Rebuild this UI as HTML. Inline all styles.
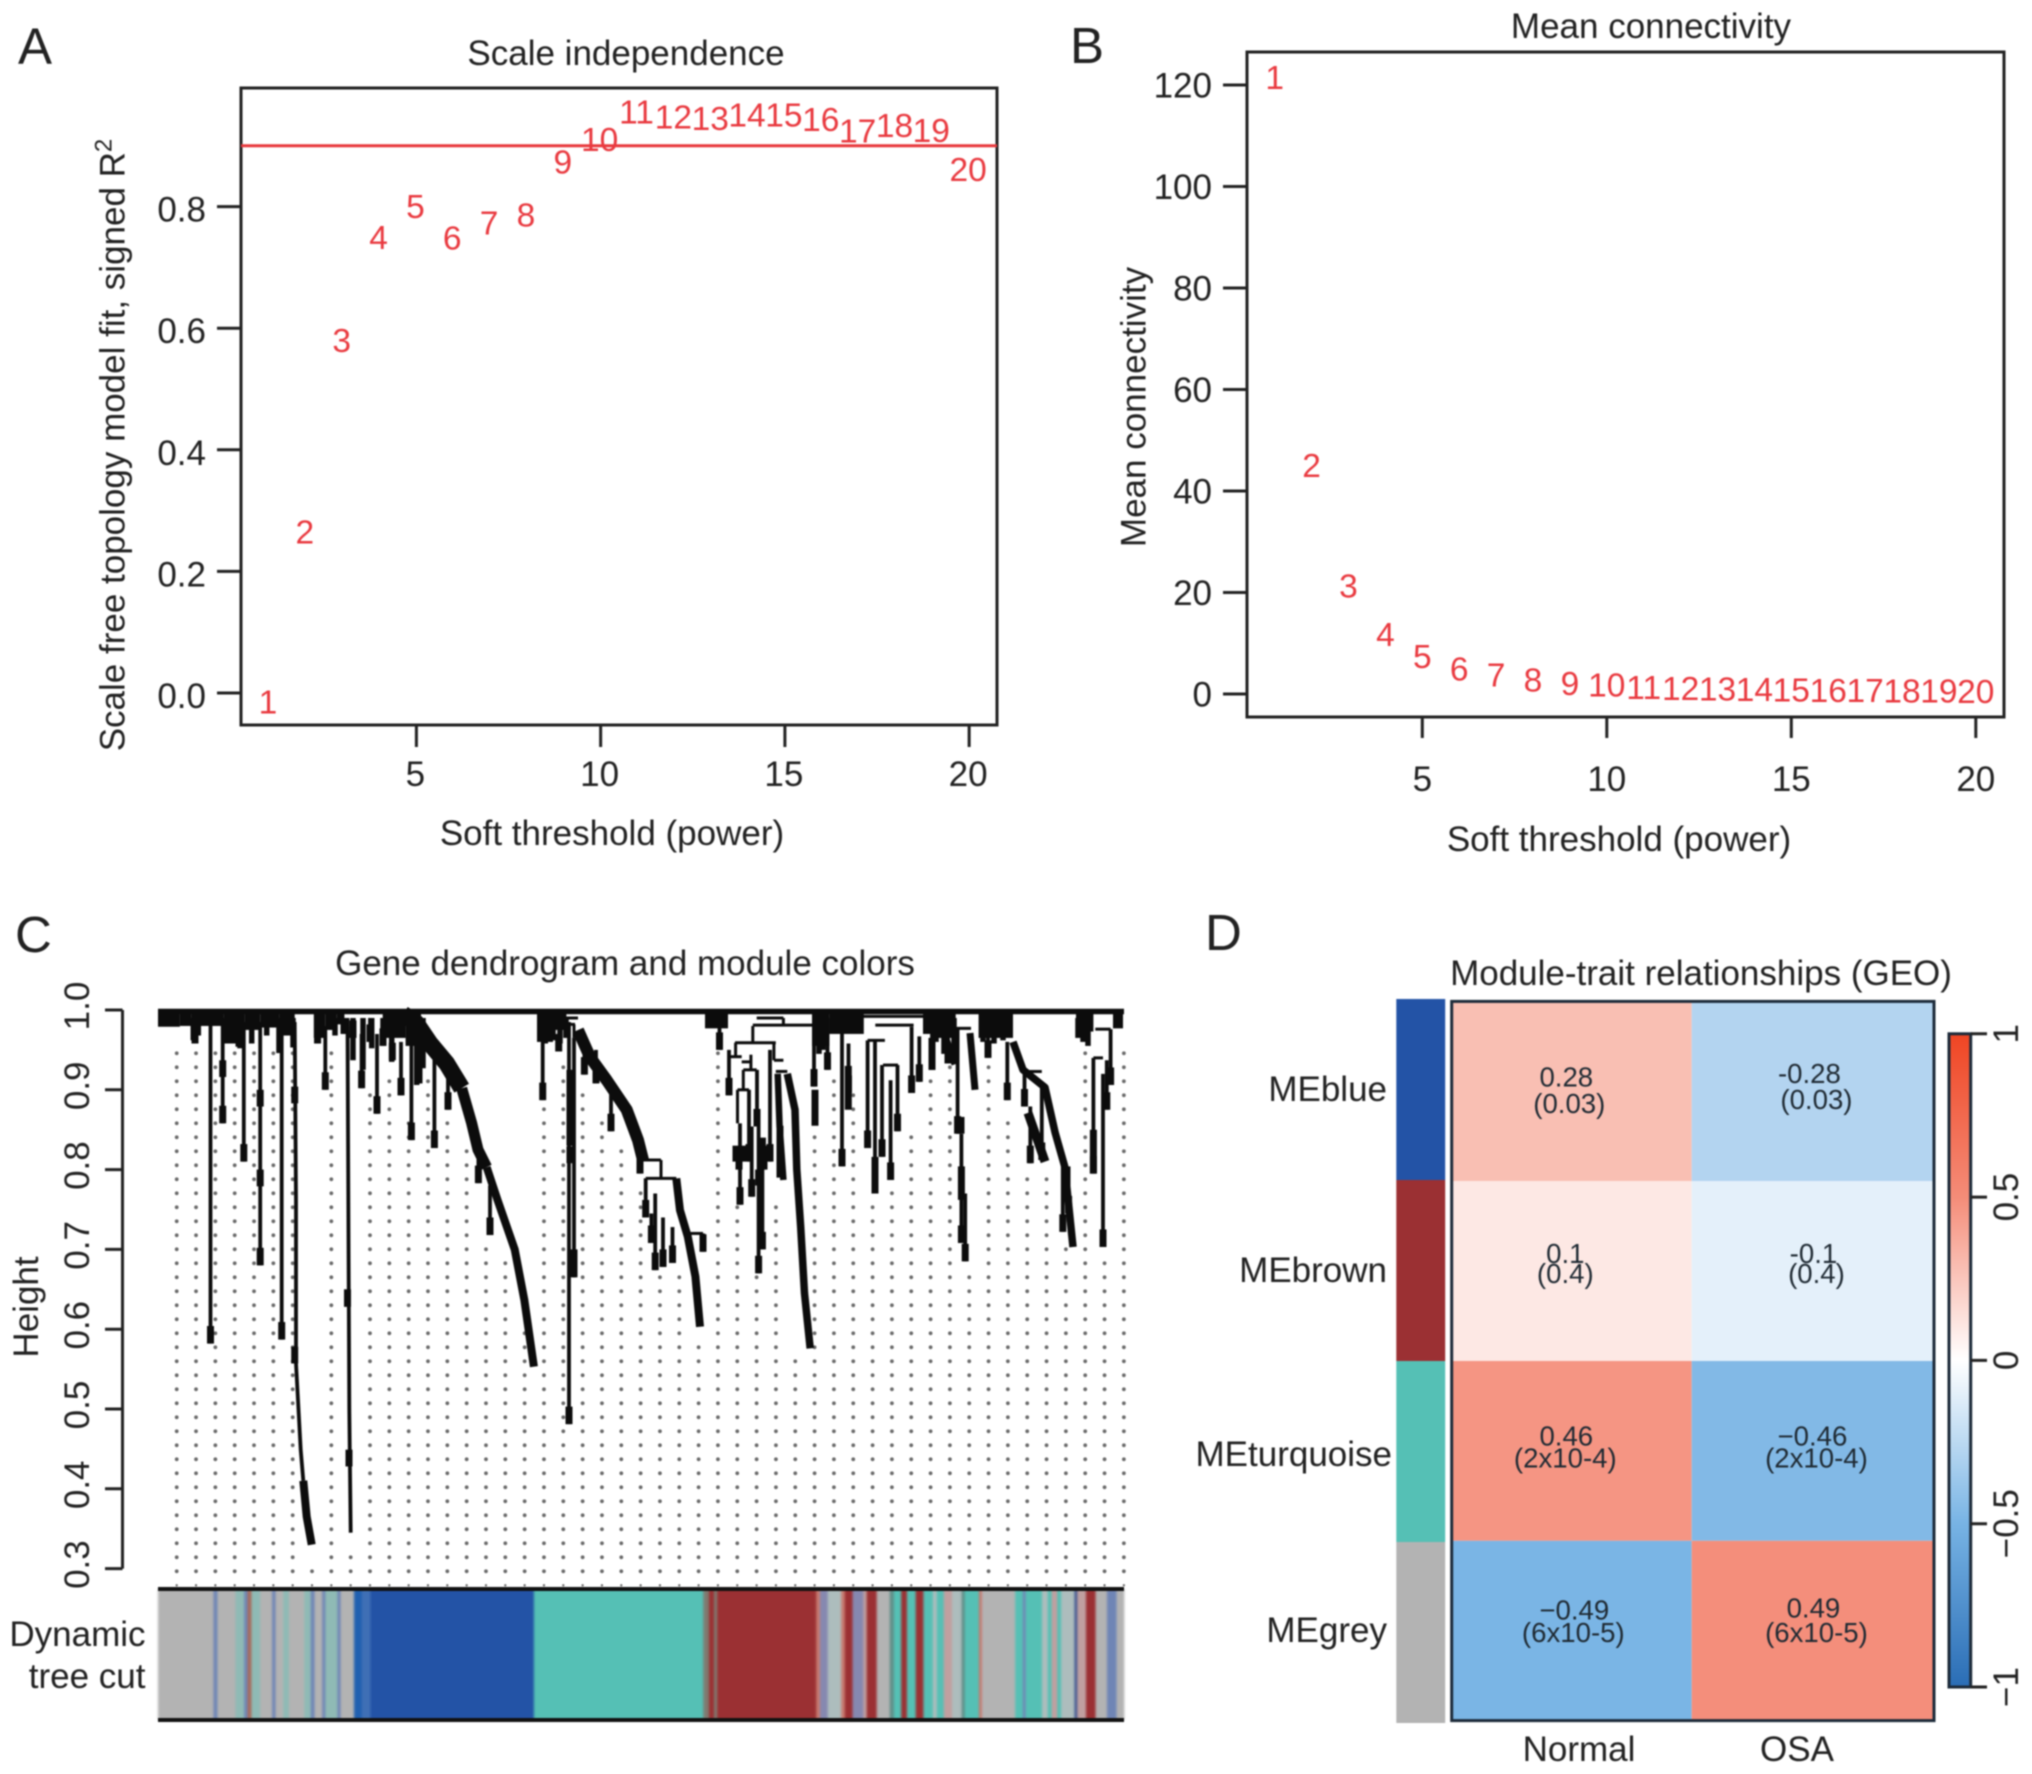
<!DOCTYPE html>
<html lang="en">
<head>
<meta charset="utf-8">
<title>WGCNA module analysis figure</title>
<style>
html,body{margin:0;padding:0;background:#fff;}
#figure{display:block;filter:blur(0.7px);font-family:"Liberation Sans",Arial,sans-serif;fill:#222;}
text{font-family:"Liberation Sans",Arial,sans-serif;}
</style>
</head>
<body>
<svg id="figure" xmlns="http://www.w3.org/2000/svg" width="2032" height="1774" viewBox="0 0 2032 1774">
  <rect x="0" y="0" width="2032" height="1774" fill="#fff"/>

  <!-- Panel letters -->
  <text x="18" y="64" font-size="51">A</text>
  <text x="1070" y="63" font-size="51">B</text>
  <text x="15" y="952" font-size="51">C</text>
  <text x="1205" y="950" font-size="51">D</text>

  <!-- Panel A -->
  <g id="panel-a">
    <text x="626" y="65" font-size="35" text-anchor="middle">Scale independence</text>
    <rect x="241" y="88" width="756" height="637" fill="none" stroke="#222" stroke-width="3"/>
    <text x="612" y="845" font-size="35" text-anchor="middle">Soft threshold (power)</text>
    <text transform="translate(124.5,445) rotate(-90)" font-size="35" text-anchor="middle">Scale free topology model fit, signed R<tspan dy="-13" font-size="24">2</tspan></text>
  </g>

  <!-- Panel B -->
  <g id="panel-b">
    <text x="1651" y="38" font-size="35" text-anchor="middle">Mean connectivity</text>
    <rect x="1247" y="52" width="757" height="665" fill="none" stroke="#222" stroke-width="3"/>
    <text x="1619" y="851" font-size="35" text-anchor="middle">Soft threshold (power)</text>
    <text transform="translate(1145.5,407) rotate(-90)" font-size="35" text-anchor="middle">Mean connectivity</text>
  </g>

  <!-- Panel C -->
  <g id="panel-c">
    <text x="625" y="975" font-size="35" text-anchor="middle">Gene dendrogram and module colors</text>
    <text transform="translate(38,1307) rotate(-90)" font-size="35" text-anchor="middle">Height</text>
    <text x="145.5" y="1646" font-size="35" text-anchor="end">Dynamic</text>
    <text x="145.5" y="1688" font-size="35" text-anchor="end">tree cut</text>
  </g>

  <!-- Panel D -->
  <g id="panel-d">
    <text x="1701" y="985" font-size="35" text-anchor="middle">Module-trait relationships (GEO)</text>
    <text x="1387" y="1101" font-size="35" text-anchor="end">MEblue</text>
    <text x="1387" y="1282" font-size="35" text-anchor="end">MEbrown</text>
    <text x="1392" y="1466" font-size="35" text-anchor="end">MEturquoise</text>
    <text x="1387" y="1642" font-size="35" text-anchor="end">MEgrey</text>
    <text x="1579" y="1761" font-size="35" text-anchor="middle">Normal</text>
    <text x="1797" y="1761" font-size="35" text-anchor="middle">OSA</text>
  </g>
</svg>

<script>
/* ---------- Panel A data ---------- */
const powers = [1,2,3,4,5,6,7,8,9,10,11,12,13,14,15,16,17,18,19,20];
const scaleFitValues = [-0.015,0.265,0.58,0.749,0.80,0.748,0.773,0.786,0.873,0.91,0.956,0.947,0.945,0.951,0.951,0.943,0.924,0.933,0.925,0.861];
const scaleFitThreshold = 0.9;
const scaleFitTicks = [0,0.2,0.4,0.6,0.8];
const scaleFitTickLabels = ["0.0","0.2","0.4","0.6","0.8"];
const powerTicks = [5,10,15,20];

/* ---------- Panel B data ---------- */
const meanConnectivityValues = [121.4,44.9,21.2,11.6,7.3,4.8,3.6,2.7,2,1.7,1.2,1,0.9,0.8,0.7,0.6,0.6,0.5,0.5,0.4];
const connectivityTicks = [0,20,40,60,80,100,120];

/* ---------- Panel C data (gene order position, dendrogram height) ---------- */
const dendroTicks = [0.3,0.4,0.5,0.6,0.7,0.8,0.9,1.0];
const dendroTickLabels = ["0.3","0.4","0.5","0.6","0.7","0.8","0.9","1.0"];
const stemPos = [52.5,64.7,85.8,102.2,123.7,167.3,203.6,219,234.3,243,253.4,276.4,290,320.4,332,384.7,411,416,37,81,159.6,261,400.7,426.4,438,453,482,561.5,571,582,593.7,591,599,600.6,604.4,612,656,669.5,684,690.5,709.6,717,724,732.6,739.5,753.6,761.3,774,790,799.6,803.4,807.2,830,849.3,866.5,872.3,883.8,904.8,910.6,935.4,945,952.6,948.8,497.2,505,514.5,493.4,487.7,545,186,195,212,225,413.5];
const stemTop = [.985,.985,.985,.985,.975,.98,.97,.97,.97,.96,.96,.94,.93,.82,.78,.97,.985,.965,.98,.98,.98,.96,.97,.97,.95,.9,.84,.99,.95,.858,.854,.9,.925,.854,.837,.95,.98,.99,.99,.958,.962,.962,.931,.912,.931,.979,.967,.996,.975,.977,.845,.77,.99,.96,.925,.879,.904,.81,.804,.94,.92,.976,.937,.77,.74,.728,.745,.789,.72,.99,.99,.99,.985,.925];
const stemBottom = [.582,.858,.81,.68,.587,.90,.902,.87,.937,.893,.837,.827,.875,.783,.718,.887,.481,.665,.958,.954,.958,.908,.948,.919,.908,.848,.795,.95,.893,.756,.766,.81,.854,.67,.70,.81,.904,.925,.804,.896,.827,.77,.816,.787,.848,.896,.91,.925,.933,.845,.708,.685,.94,.887,.879,.808,.812,.722,.745,.795,.703,.906,.875,.674,.678,.683,.708,.74,.697,.97,.965,.96,.955,.83];

const twigPos = [35.3,40.3,67,72,77,82,93.7,108.7,121,135,159,177,195,205,213.7,225,233.7,265,258.7,387.3,402,395,408,665,661,825,836,845,920,925,930,778,786,796];
const twigBottom = [.962,.968,.958,.958,.958,.952,.958,.968,.946,.953,.958,.968,.937,.925,.952,.968,.935,.927,.906,.958,.958,.962,.965,.95,.945,.96,.958,.962,.965,.96,.955,.96,.945,.935];

const connectorPos = [625.4,594.8,577.6,592.9,585.3,579.5,615.9,503,487.7,408,416];
const connectorTop = [.99,.98,.959,.944,.925,.90,.959,.812,.789,.99,.982];
const connectorBottom = [.98,.959,.9415,.925,.90,.858,.937,.789,.766,.982,.965];

const linkLeft = [598.7,594.8,577,572,583.7,585.3,579.5,616,617.8,483.8,487.7,529.8,703.9,717.3,709.6,725,937.3,935.4,797.7,866.5,883.8,399,408];
const linkRight = [625.4,657,617.8,583.7,593.7,598.7,591,625.4,629.3,503,518.3,545,767,755.6,726.9,740,952.6,945,813,883.8,889.5,420,417];
const linkHeight = [.99,.981,.959,.9415,.935,.925,.90,.937,.923,.812,.789,.72,.992,.981,.962,.931,.976,.94,.977,.923,.896,.99,.982];

const sectionPos = [136.7,136.7,102.2,102.2,64.7,189.5,191,412,412,416,803,803.4,717,935.4,604.4,606,581,600.6,578,584,657,690.3,622,774];
const sectionTop = [.904,.578,.90,.80,.937,.65,.449,.925,.829,.70,.866,.804,.816,.85,.84,.83,.825,.80,.83,.83,.90,.93,.855,.965];
const sectionBottom = [.883,.557,.879,.779,.916,.628,.428,.83,.808,.666,.845,.762,.77,.795,.80,.80,.80,.78,.81,.81,.855,.875,.79,.925];

const blobStart = [0,21.9,33.4,43,65.9,86.9,102.2,121.4,155.8,167.3,178.8,224.7,247.6,379,395,547,654,671.4,765,778.5,820.6,918,955];
const blobEnd = [21.9,33.4,43,65.9,86.9,102.2,121.4,136.7,167.3,178.8,186.4,247.6,263,395,408.4,570,671.4,705.8,778.5,797.7,855,935.4,965];
const blobBottom = [.979,.98,.975,.98,.972,.975,.978,.968,.965,.975,.982,.965,.955,.96,.975,.977,.955,.97,.97,.965,.965,.973,.977];

const cascadeOneUpperPos = [245,258,272,288.7,303.7];
const cascadeOneUpperHeight = [.995,.984,.958,.933,.902];
const cascadeOneMiddlePos = [303.7,313.7,320,328.7];
const cascadeOneMiddleHeight = [.902,.858,.825,.803];
const cascadeOneLowerPos = [328.7,339.5,356.7,366.3,375.9];
const cascadeOneLowerHeight = [.803,.762,.70,.637,.553];
const cascadeTwoUpperPos = [420,432,448.7,468.7,480,485];
const cascadeTwoUpperHeight = [.975,.941,.912,.875,.837,.812];
const cascadeTwoLowerPos = [518.3,522,529.8,537.4,542];
const cascadeTwoLowerHeight = [.789,.749,.716,.666,.603];
const cascadeThreePos = [629.3,637,638.8,642.7,646.5,652.2];
const cascadeThreeHeight = [.92,.875,.80,.728,.645,.576];
const cascadeFourPos = [619.7,621.6,625.4];
const cascadeFourHeight = [.92,.854,.787];
const cascadeFivePos = [812,817];
const cascadeFiveHeight = [.971,.90];
const cascadeSixPos = [855,865,887,897.2,906.7,915];
const cascadeSixHeight = [.96,.925,.903,.846,.804,.703];
const cascadeSevenPos = [870,878.7,887];
const cascadeSevenHeight = [.871,.84,.81];
const cascadeEightPos = [782,797];
const cascadeEightHeight = [.985,.932];
const longDropOnePos = [136.7,138,138,140,142.7,145.3];
const longDropOneHeight = [.985,.76,.557,.511,.449,.41];
const longDropOneEndPos = [145.3,148.7,153.7];
const longDropOneEndHeight = [.41,.365,.33];
const longDropTwoPos = [189.5,191.3,192.7];
const longDropTwoHeight = [.99,.50,.345];

const guideStartHeights = [.95,.95,.95,.95,.95,.95,.95,.30,.95,.318,.898,.915,.863,.915,.863,.828,.705,.688,.60,.88,.933,.898,.863,.828,.775,.67,.67,.582,.95,.758,.67,.758,.564,.88,.915,.898,.758,.775,.845,.915,.933,.67,.95,.863,.793,.793,.705,.95,.688,.95];

const moduleColors = {g:"#b3b3b3",b:"#2353a6",t:"#55c0b5",r:"#9b3033",bl:"#6f85b5",tl:"#8fbab5",rl:"#a86a5a",bd:"#2060b0",bm:"#3f6fb5",rs:"#c77a70",gb:"#7f7a70",bg:"#8688b0",lt:"#adbdbd",gr:"#5f8f88",pk:"#c0a0a0",nv:"#3f5590"};
const segmentEnd = [55.5,59.4,77.4,86.2,89.6,93.4,102.2,114.1,117.5,125.2,130.9,146.2,152.8,156.6,164.2,167.3,179.5,182.6,196,203.7,207.5,212.5,375.9,545.3,551,556,559.1,658.2,662,669.7,683.1,686.9,694.6,705.3,708.7,718.7,731.7,735.9,743.2,748.9,757.7,765.4,774.9,778.8,785.7,794.1,803.6,806.7,820.9,823.9,857.2,864.9,867.6,884,889.8,893.6,899.3,903.1,916.5,919.2,928,937.6,949,958.6,966];
const segmentModule = ["g","bl","g","tl","bl","rl","tl","g","bl","g","tl","g","tl","bl","g","bl","tl","bl","g","bd","bm","bm","b","t","gb","r","gb","r","rs","bg","lt","rs","r","bg","pk","r","g","gr","t","r","t","r","t","lt","t","pk","lt","gr","t","rs","g","t","bl","t","lt","t","pk","t","lt","nv","pk","r","g","bl","g"];

/* ---------- Panel D data ---------- */
const moduleNames = ["MEblue","MEbrown","MEturquoise","MEgrey"];
const moduleBarColors = ["#2353a6","#9b3033","#55c0b5","#b3b3b3"];
const traitNames = ["Normal","OSA"];
const normalCorrelation = [0.28,0.1,0.46,-0.49];
const osaCorrelation = [-0.28,-0.1,-0.46,0.49];
const normalCorrelationLabels = ["0.28","0.1","0.46","\u22120.49"];
const osaCorrelationLabels = ["-0.28","-0.1","\u22120.46","0.49"];
const normalPValueLabels = ["(0.03)","(0.4)","(2x10-4)","(6x10-5)"];
const osaPValueLabels = ["(0.03)","(0.4)","(2x10-4)","(6x10-5)"];
const colorbarTicks = [-1,-0.5,0,0.5,1];
const colorbarTickLabels = ["\u22121","\u22120.5","0","0.5","1"];
const colorStopValues = [-1,-0.5,0,0.5,1];
const colorStopColors = ["#2a6db5","#77b3e4","#ffffff","#f48c78","#ef4523"];

/* ---------- Helpers ---------- */
const NS = "http://www.w3.org/2000/svg";
function mk(parent, tag, attrs, txt){
  const el = document.createElementNS(NS, tag);
  for (const k in attrs) el.setAttribute(k, attrs[k]);
  if (txt !== undefined) el.textContent = txt;
  parent.appendChild(el);
  return el;
}
function hexToRgb(h){return [parseInt(h.slice(1,3),16),parseInt(h.slice(3,5),16),parseInt(h.slice(5,7),16)];}
function corrColor(v){
  const c = Math.max(-1, Math.min(1, v));
  let i = 0;
  while (i < colorStopValues.length - 2 && c > colorStopValues[i+1]) i++;
  const t = (c - colorStopValues[i]) / (colorStopValues[i+1] - colorStopValues[i]);
  const a = hexToRgb(colorStopColors[i]), b = hexToRgb(colorStopColors[i+1]);
  return "rgb(" + a.map((x,j)=>Math.round(x+(b[j]-x)*t)).join(",") + ")";
}

/* ---------- Panel A ---------- */
(function(){
  const g = document.getElementById("panel-a");
  const x = p => 269 + (p - 1) * 36.85;
  const y = v => 693 - v * 608;
  const line = mk(g, "line", {x1:241, x2:997, y1:y(scaleFitThreshold), y2:y(scaleFitThreshold), stroke:"#e8383c", "stroke-width":3});
  
  
  scaleFitTicks.forEach((v,i)=>{
    const t = mk(g, "line", {x1:217, x2:241, y1:y(v), y2:y(v), stroke:"#222", "stroke-width":3});
    
    
    const l = mk(g, "text", {x:206, y:y(v)+15, "font-size":35, "text-anchor":"end"}, scaleFitTickLabels[i]);
    
    
  });
  powerTicks.forEach(p=>{
    const t = mk(g, "line", {x1:x(p), x2:x(p), y1:725, y2:747, stroke:"#222", "stroke-width":3});
    
    
    const l = mk(g, "text", {x:x(p)-1, y:786, "font-size":35, "text-anchor":"middle"}, String(p));
    
    
  });
  powers.forEach((p,i)=>{
    const l = mk(g, "text", {x:x(p)-1, y:y(scaleFitValues[i])+11.5, "font-size":33.5, "text-anchor":"middle", fill:"#e93a40"}, String(p));
    
    
  });
})();

/* ---------- Panel B ---------- */
(function(){
  const g = document.getElementById("panel-b");
  const x = p => 1274.7 + (p - 1) * 36.9;
  const y = v => 694 - v * 5.075;
  connectivityTicks.forEach(v=>{
    const t = mk(g, "line", {x1:1223, x2:1247, y1:y(v), y2:y(v), stroke:"#222", "stroke-width":3});
    
    
    const l = mk(g, "text", {x:1212, y:y(v)+12.5, "font-size":35, "text-anchor":"end"}, String(v));
    
    
  });
  powerTicks.forEach(p=>{
    const t = mk(g, "line", {x1:x(p), x2:x(p), y1:717, y2:738, stroke:"#222", "stroke-width":3});
    
    
    const l = mk(g, "text", {x:x(p), y:791, "font-size":35, "text-anchor":"middle"}, String(p));
    
    
  });
  powers.forEach((p,i)=>{
    const l = mk(g, "text", {x:x(p), y:y(meanConnectivityValues[i])+11, "font-size":33.5, "text-anchor":"middle", fill:"#e93a40"}, String(p));
    
    
  });
})();

/* ---------- Panel C ---------- */
(function(){
  const root = document.getElementById("panel-c");
  const x = g => 158 + g;
  const y = h => 1010 + (1 - h) * 798;
  const INK = "#0c0c0c";
  const THIN = 3.8;
  const END = 7;

  /* axis */
  const axis = mk(root, "line", {x1:122.5, x2:122.5, y1:y(1), y2:y(0.3), stroke:"#222", "stroke-width":3});
  
  
  dendroTicks.forEach((v,i)=>{
    const t = mk(root, "line", {x1:105, x2:122.5, y1:y(v), y2:y(v), stroke:"#222", "stroke-width":3});
    
    
    const l = mk(root, "text", {transform:"translate(89,"+(y(v)-4)+") rotate(-90)", "font-size":35, "text-anchor":"middle"}, dendroTickLabels[i]);
    
    
  });

  /* guide dots */
  const dots = mk(root, "g", {fill:"#6a6a6a"});
  
  
  guideStartHeights.forEach((start,c)=>{
    const cx = 176.7 + c * 19.33;
    for (let r = 0; r < 39; r++){
      const cy = 1053.3 + r * 14;
      if (cy >= y(start)){
        const d = mk(dots, "circle", {cx:cx, cy:cy, r: r === 38 ? 1.2 : 1.9});
        
        
      }
    }
  });

  /* dendrogram */
  const tree = mk(root, "g", {stroke:INK, fill:"none", "stroke-linejoin":"round"});
  
  

  blobStart.forEach((s,i)=>{
    const b = mk(tree, "rect", {x:x(s), y:y(1), width:blobEnd[i]-s, height:y(blobBottom[i])-y(1), fill:INK, stroke:"none"});
    
    
  });
  const topLine = mk(tree, "line", {x1:x(0), x2:x(966), y1:y(1)+1.5, y2:y(1)+1.5, "stroke-width":5.5});
  
  

  stemPos.forEach((p,i)=>{
    const s = mk(tree, "line", {x1:x(p), x2:x(p), y1:y(stemTop[i]), y2:y(stemBottom[i]), "stroke-width":THIN});
    
    
    const e = mk(tree, "line", {x1:x(p), x2:x(p), y1:y(Math.min(stemTop[i], stemBottom[i]+0.022)), y2:y(stemBottom[i]), "stroke-width":END});
    
    
  });
  twigPos.forEach((p,i)=>{
    const s = mk(tree, "line", {x1:x(p), x2:x(p), y1:y(0.99), y2:y(twigBottom[i]), "stroke-width":5.5});
    
    
  });
  connectorPos.forEach((p,i)=>{
    const s = mk(tree, "line", {x1:x(p), x2:x(p), y1:y(connectorTop[i]), y2:y(connectorBottom[i]), "stroke-width":3});
    
    
  });
  linkLeft.forEach((l,i)=>{
    const s = mk(tree, "line", {x1:x(l), x2:x(linkRight[i]), y1:y(linkHeight[i]), y2:y(linkHeight[i]), "stroke-width":3});
    
    
  });
  sectionPos.forEach((p,i)=>{
    const s = mk(tree, "line", {x1:x(p), x2:x(p), y1:y(sectionTop[i]), y2:y(sectionBottom[i]), "stroke-width":7});
    
    
  });
  const curve = (pos, hts, width) => {
    const pts = pos.map((p,i)=> x(p).toFixed(1) + "," + y(hts[i]).toFixed(1)).join(" ");
    const c = mk(tree, "polyline", {points:pts, "stroke-width":width});
    
    
  };
  curve(cascadeOneUpperPos, cascadeOneUpperHeight, 17);
  curve(cascadeOneMiddlePos, cascadeOneMiddleHeight, 11);
  curve(cascadeOneLowerPos, cascadeOneLowerHeight, 8);
  curve(cascadeTwoUpperPos, cascadeTwoUpperHeight, 12);
  curve(cascadeTwoLowerPos, cascadeTwoLowerHeight, 8);
  curve(cascadeThreePos, cascadeThreeHeight, 7.5);
  curve(cascadeFourPos, cascadeFourHeight, 6.5);
  curve(cascadeFivePos, cascadeFiveHeight, 7);
  curve(cascadeSixPos, cascadeSixHeight, 7.5);
  curve(cascadeSevenPos, cascadeSevenHeight, 9);
  curve(cascadeEightPos, cascadeEightHeight, 7);
  curve(longDropOnePos, longDropOneHeight, THIN);
  curve(longDropOneEndPos, longDropOneEndHeight, 8);
  curve(longDropTwoPos, longDropTwoHeight, THIN);

  /* module colour bar */
  const bar = mk(root, "g", {});
  
  
  const stripes = mk(bar, "g", {style:"filter:blur(1px)"});
  
  
  let prev = 0;
  segmentEnd.forEach((end,i)=>{
    const s = mk(stripes, "rect", {x:x(prev), y:1589, width:end-prev+0.3, height:131, fill:moduleColors[segmentModule[i]]});
    
    
    prev = end;
  });
  const barTop = mk(bar, "line", {x1:x(0), x2:x(966), y1:1589, y2:1589, stroke:"#111", "stroke-width":4});
  
  
  const barBottom = mk(bar, "line", {x1:x(0), x2:x(966), y1:1720, y2:1720, stroke:"#111", "stroke-width":4});
  
  
})();

/* ---------- Panel D ---------- */
(function(){
  const root = document.getElementById("panel-d");
  const colLeft = c => 1451.7 + c * 240;
  const rowTop = r => 1001.4 + r * 179.8;
  const sideTop = r => 999 + r * 181;
  const corr = [normalCorrelation, osaCorrelation];
  const corrLabels = [normalCorrelationLabels, osaCorrelationLabels];
  const pLabels = [normalPValueLabels, osaPValueLabels];

  moduleNames.forEach((m,r)=>{
    const s = mk(root, "rect", {x:1396.3, y:sideTop(r), width:48.9, height:sideTop(r+1)-sideTop(r), fill:moduleBarColors[r]});
    
    
  });
  traitNames.forEach((t,c)=>{
    moduleNames.forEach((m,r)=>{
      const cell = mk(root, "rect", {x:colLeft(c), y:rowTop(r), width:c === 0 ? 240 : 242.3, height:179.8, fill:corrColor(corr[c][r])});
      
      
    });
  });
  const frame = mk(root, "rect", {x:colLeft(0), y:rowTop(0), width:482.3, height:719.2, fill:"none", stroke:"#1d2b3a", "stroke-width":3});
  
  

  const line1Nudge = [[-4.5,-8],[-7.5,-7.5],[-4.5,-4.5],[-10,-12]];
  const line2Nudge = [[22,18],[12.5,12.5],[17.5,17.5],[12.5,12.5]];
  const line1Dx = [[-6,-4],[-7,0],[-6,-1],[2,0]];
  const line2Dx = [[-3,3],[-7,3],[-7,3],[1,3]];
  traitNames.forEach((t,c)=>{
    moduleNames.forEach((m,r)=>{
      const cx = 1451.7 + c * 241.15 + 120.6, cy = 1001.4 + r * 179.5 + 89.75;
      const a = mk(root, "text", {x:cx+line1Dx[r][c], y:cy+line1Nudge[r][c], "font-size":27.6, "text-anchor":"middle", fill:"#1f2a33"}, corrLabels[c][r]);
      
      
      const b = mk(root, "text", {x:cx+line2Dx[r][c], y:cy+line2Nudge[r][c], "font-size":27.6, "text-anchor":"middle", fill:"#1f2a33"}, pLabels[c][r]);
      
      
    });
  });

  /* colour scale legend */
  const defs = mk(root, "defs", {});
  const grad = mk(defs, "linearGradient", {id:"corr-gradient", x1:0, y1:1, x2:0, y2:0});
  colorStopValues.forEach((v,i)=>{
    mk(grad, "stop", {offset:((v+1)/2*100)+"%", "stop-color":colorStopColors[i]});
  });
  const cbY = v => 1360.4 - v * 326.6;
  const cb = mk(root, "rect", {x:1949, y:cbY(1), width:21.7, height:cbY(-1)-cbY(1), fill:"url(#corr-gradient)", stroke:"#1d2b3a", "stroke-width":3});
  
  
  colorbarTicks.forEach((v,i)=>{
    const t = mk(root, "line", {x1:1970.7, x2:1987, y1:cbY(v), y2:cbY(v), stroke:"#222", "stroke-width":3});
    
    
    const l = mk(root, "text", {transform:"translate(2018,"+cbY(v)+") rotate(-90)", "font-size":35, "text-anchor":"middle"}, colorbarTickLabels[i]);
    
    
  });
})();
</script>
</body>
</html>
